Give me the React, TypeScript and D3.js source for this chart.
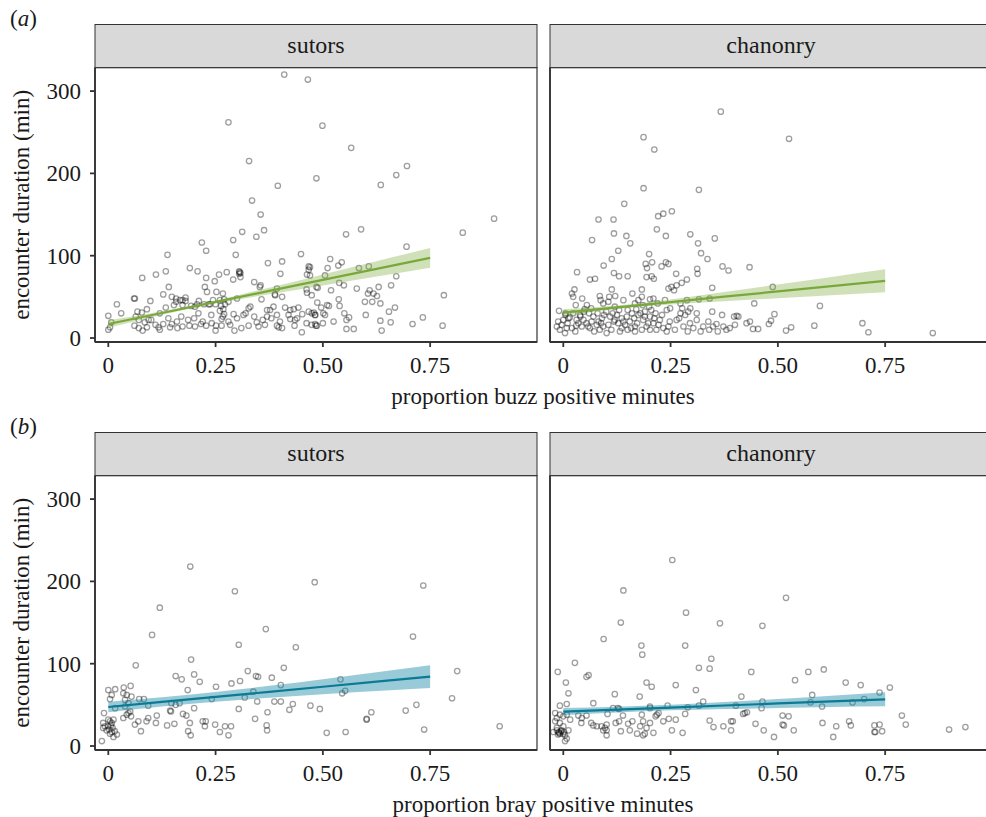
import React, { useRef, useEffect } from "react";
import * as d3 from "d3";

// [proportion positive minutes, encounter duration (min)]
const sutorsBuzz = [
  [0.41,320],[0.465,314],[0.28,262],[0.499,258],[0.328,215],[0.485,194],[0.395,185],[0.335,167],
  [0.566,231],[0.696,209],[0.671,198],[0.635,186],[0.899,145],[0.826,128],[0.589,132],[0.554,126],[0.695,111],
  [0.517,96],[0.544,92],[0.536,88],[0.511,85],[0.584,85],[0.607,87],[0.671,75],[0.505,76],[0.47,86],[0.47,76],
  [0.538,67],[0.549,64],[0.63,62],[0.659,64],[0.579,60],[0.519,58],[0.488,61],[0.474,52],
  [0.609,58],[0.618,54],[0.626,51],[0.605,54],[0.782,52],[0.537,47],[0.598,44],[0.615,44],[0.634,42],
  [0.487,43],[0.51,40],[0.539,39],[0.496,37],[0.514,39],[0.668,37],[0.654,32],
  [0.474,30],[0.482,28],[0.505,28],[0.501,30],[0.555,22],[0.561,25],[0.733,25],[0.709,17],[0.779,15],
  [0.634,21],[0.658,19],[0.525,20],[0.5,18],[0.482,17],[0.484,15],[0.555,11],[0.572,11],[0.637,9],
  [0.355,150],[0.363,131],[0.312,129],[0.345,123],[0.291,119],[0.218,116],[0.228,106],[0.138,101],[0.297,101],[0.449,102],
  [0.372,91],[0.405,93],[0.467,87],[0.467,83],[0.463,77],[0.19,85],[0.208,81],[0.276,80],[0.305,81],[0.308,79],[0.305,78],[0.306,80],
  [0.134,81],[0.111,77],[0.079,73],[0.258,77],[0.228,73],[0.248,69],[0.291,71],[0.308,74],[0.401,78],[0.34,68],
  [0.141,62],[0.225,62],[0.355,64],[0.353,62],[0.393,60],[0.462,59],[0.463,55],[0.485,62],[0.23,56],[0.252,56],[0.267,54],
  [0.128,53],[0.06,48],[0.062,48],[0.098,45],[0.148,50],[0.158,48],[0.167,46],[0.158,44],[0.18,49],[0.18,45],[0.173,46],
  [0.211,45],[0.207,41],[0.244,46],[0.237,41],[0.357,47],[0.388,53],[0.389,52],[0.405,50],[0.02,41],
  [0.134,37],[0.153,40],[0.173,40],[0.193,39],[0.202,38],[0.223,41],[0.234,41],[0.25,41],[0.263,39],[0.272,41],[0.268,35],
  [0.09,35],[0.078,31],[0.064,26],[0.068,32],[0,27],[0.007,19],[0,10],[0.004,13],
  [0.061,15],[0.071,12],[0.08,9],[0.09,13],[0.085,19],[0.094,22],[0.071,22],
  [0.117,13],[0.128,17],[0.148,17],[0.144,13],[0.161,12],[0.173,14],[0.186,22],[0.189,15],[0.202,14],[0.216,17],[0.228,15],[0.241,18],
  [0.251,15],[0.264,15],[0.267,26],[0.264,23],[0.27,29],[0.284,16],[0.294,9],[0.292,29],
  [0.315,28],[0.327,15],[0.346,19],[0.35,14],[0.365,16],[0.331,38],[0.327,36],
  [0.37,34],[0.377,34],[0.37,26],[0.385,38],[0.393,28],[0.393,15],[0.397,13],[0.405,12],
  [0.412,37],[0.424,34],[0.432,35],[0.443,37],[0.435,22],[0.424,23],[0.452,29],[0.467,32],[0.479,31],[0.482,28],
  [0.462,18],[0.474,16],[0.486,15],[0.451,7],[0.434,15],
  [0.03,30],[0.1,22],[0.11,16],[0.12,30],[0.14,24],[0.16,20],[0.17,26],[0.2,24],[0.21,30],[0.22,20],
  [0.24,28],[0.26,33],[0.28,20],[0.3,24],[0.31,12],[0.32,30],[0.34,26],[0.36,22],[0.38,24],[0.4,20],
  [0.42,28],[0.44,24],[0.26,46],[0.27,47],[0.28,44],[0.3,48],[0.25,9],[0.12,10],[0.55,30],[0.6,28],
];

const chanonryBuzz = [
  [0.367,275],[0.187,244],[0.212,229],[0.187,182],[0.316,180],[0.142,163],
  [0.526,242],[0.488,62],[0.598,39],[0.492,29],[0.484,21],[0.479,17],[0.442,11],[0.519,9],[0.531,13],[0.585,15],[0.697,18],[0.711,7],[0.861,6],
  [0.082,144],[0.117,144],[0.221,148],[0.233,151],[0.253,154],
  [0.118,127],[0.147,124],[0.067,119],[0.156,115],[0.218,132],[0.239,124],[0.296,126],[0.353,121],[0.314,115],
  [0.128,106],[0.113,96],[0.094,88],[0.032,80],
  [0.2,102],[0.207,92],[0.192,90],[0.195,85],[0.239,92],[0.245,90],[0.229,87],
  [0.321,103],[0.336,96],[0.312,84],[0.313,78],[0.371,87],[0.385,82],[0.434,86],
  [0.118,79],[0.13,75],[0.15,75],[0.062,71],[0.074,72],[0.194,74],[0.206,75],[0.211,72],
  [0.263,78],[0.288,71],[0.276,67],[0.264,64],[0.245,60],[0.252,62],[0.258,58],[0.347,61],[0.445,42],
  [0.026,59],[0.02,54],[0.023,50],[0.044,48],[0.029,40],[-0.01,33],
  [0.085,51],[0.107,50],[0.087,46],[0.113,59],[0.121,51],[0.105,44],[0.093,42],
  [0.14,46],[0.161,54],[0.183,59],[0.183,50],[0.175,46],[0.167,42],[0.202,47],[0.21,48],
  [0.237,46],[0.249,36],[0.241,34],[0.273,42],[0.288,46],[0.296,36],[0.277,36],[0.273,30],
  [0.316,47],[0.341,48],[0.347,32],[0.37,28],[0.398,26],[0.404,27],
  [-0.015,14],[-0.004,16],[0.004,6],[0,22],[-0.012,20],[-0.008,10],[0.008,12],
  [0.023,30],[0.039,28],[0.047,22],[0.031,22],[0.054,18],[0.043,14],[0.062,12],[0.07,26],[0.078,16],[0.085,10],
  [0.093,14],[0.101,6],[0.082,20],[0.066,20],
  [0.109,26],[0.12,22],[0.128,18],[0.136,12],[0.148,26],[0.155,20],[0.167,14],[0.175,28],[0.186,22],[0.194,14],
  [0.202,26],[0.21,18],[0.217,10],[0.225,22],[0.233,12],[0.241,8],[0.167,8],[0.183,10],[0.202,10],[0.136,24],[0.144,16],
  [0.248,20],[0.264,22],[0.28,14],[0.295,18],[0.311,22],[0.303,12],[0.326,14],[0.338,20],[0.349,14],[0.357,17],
  [0.373,14],[0.388,12],[0.4,16],[0.408,26],[0.427,18],[0.435,20],[0.454,11],[0.311,30],[0.284,28],[0.291,32],
  [0.01,18],[0.015,25],[0.005,28],[0.05,35],[0.06,30],[0.1,32],[0.115,30],[0.13,34],[0.16,30],[0.17,35],
  [0.19,32],[0.2,38],[0.055,40],[0.12,38],[0.09,24],[0.15,10],[0.185,40],[0.215,30],[0.22,42],[0.03,15],
  [0.005,30],[0.012,24],[0.02,12],[0.028,8],[0.035,18],[0.04,26],[0.048,32],[0.058,14],[0.065,36],[0.072,8],
  [0.08,30],[0.088,18],[0.095,28],[0.105,16],[0.112,10],[0.118,20],[0.125,28],[0.132,8],[0.14,20],[0.15,34],
  [0.158,12],[0.165,24],[0.172,18],[0.18,30],[0.19,26],[0.198,18],[0.205,34],[0.212,24],[0.222,16],[0.23,28],
  [0.245,14],[0.26,10],[0.27,24],[0.29,8],[0.32,8],[0.34,10],[0.36,8],[0.38,10],
];

const sutorsBray = [
  [0.191,218],[0.481,199],[0.734,195],[0.295,188],[0.12,168],[0.102,135],[0.367,142],[0.304,123],[0.437,120],[0.71,133],
  [0.193,105],[0.064,98],[0.409,95],[0.813,91],[0.325,91],[0.344,85],[0.349,84],[0.381,83],[0.157,85],[0.171,81],[0.2,87],[0.213,78],
  [0.307,79],[0.287,76],[0.251,72],[0.402,74],[0.541,81],[0.552,67],[0.545,64],[0.185,68],[0.338,66],[0.318,59],[0.241,57],[0.801,58],
  [0.347,54],[0.387,54],[0.402,54],[0.43,51],[0.422,44],[0.471,49],[0.493,45],[0.718,50],[0.693,43],[0.613,41],[0.602,32],[0.602,33],
  [0.2,46],[0.304,45],[0.371,41],[0.147,52],[0.157,50],[0.166,52],[0.144,43],[0.146,42],[0.093,49],[0.083,57],[0.072,57],
  [0.174,39],[0.182,37],[0.113,37],[0.093,34],[0.089,30],[0.111,28],[0.07,30],[0.062,26],[0.076,18],[0.137,25],[0.154,27],
  [0.19,28],[0.186,18],[0.192,13],[0.22,30],[0.227,30],[0.225,24],[0.249,26],[0.272,24],[0.286,24],[0.26,17],[0.28,13],
  [0.342,33],[0.369,25],[0.37,19],[0.509,16],[0.553,17],[0.736,20],[0.912,24],
  [0,68],[0.016,69],[0.036,71],[0.052,73],[0.035,64],[0.043,62],[0.054,60],[0.008,62],[0.004,57],[0.039,56],[0.047,52],
  [0.039,48],[0.051,42],[0.043,38],[0.035,34],[0.047,40],[0.053,36],[0.016,46],
  [-0.01,40],[-0.012,28],[-0.008,24],[0,32],[0.008,28],[0.012,32],[-0.004,19],[0.004,15],[0.012,11],[0.008,17],[-0.015,6],
  [-0.012,22],[0,24],[0.002,20],[0.006,25],[0.01,22],[0.015,18],[0.004,30],[0.02,14],
];

const chanonryBray = [
  [0.254,226],[0.519,180],[0.14,189],[0.286,162],[0.134,150],[0.365,149],[0.464,146],[0.094,130],[0.182,122],[0.184,111],
  [0.284,122],[0.345,106],[0.027,101],[-0.013,90],
  [0.316,95],[0.341,94],[0.438,90],[0.607,93],[0.571,90],[0.054,84],[0.059,86],[0.006,77],[0.54,80],[0.194,77],[0.206,72],
  [0.262,74],[0.658,77],[0.693,74],[0.761,71],
  [0.012,64],[0.12,63],[0.178,60],[0.309,68],[0.415,60],[0.58,62],[0.737,65],[0.701,57],[0.674,53],[0.07,52],[0.326,54],
  [0.316,49],[0.464,54],[0.462,46],[0.402,49],[0.576,53],[0.603,48],
  [-0.008,49],[0.008,51],[0.116,46],[0.127,46],[0.13,45],[0.202,48],[0.202,46],[0.243,49],[0.29,47],[0.103,39],[0.139,37],
  [0.183,38],[0.218,38],[0.215,36],[0.222,40],[0.284,39],[0.419,39],[0.428,41],[0.511,37],[0.525,36],[0.789,37],
  [0.035,37],[0.043,34],[0.054,37],[0.065,28],[0.07,25],[0.078,24],[0.089,24],[0.097,22],[0.101,26],[0.101,13],[0.093,19],
  [0.101,19],[0.042,28],
  [0.122,28],[0.13,30],[0.151,27],[0.161,30],[0.134,18],[0.155,19],[0.172,15],[0.179,24],[0.186,30],[0.194,22],[0.202,28],
  [0.19,15],[0.186,13],[0.21,16],
  [0.233,30],[0.246,33],[0.262,32],[0.253,19],[0.278,16],[0.341,31],[0.35,23],[0.373,24],[0.391,30],[0.395,30],[0.391,19],
  [0.423,40],[0.448,27],[0.467,19],[0.491,11],[0.511,26],[0.514,25],[0.537,19],
  [0.604,28],[0.636,24],[0.629,11],[0.666,30],[0.67,25],[0.725,25],[0.737,26],[0.725,17],[0.727,17],[0.743,18],[0.798,26],
  [0.899,20],[0.937,23],
  [-0.019,40],[-0.015,34],[-0.008,38],[0,36],[0.008,38],[-0.015,22],[-0.011,17],[-0.008,15],[-0.004,19],[0,24],[0.004,13],
  [0.012,19],[0.008,9],[0.004,6],[-0.008,28],[-0.023,17],[0.016,32],[-0.019,30],
  [-0.01,16],[-0.005,18],[0,15],[-0.015,19],[0.002,17],[-0.012,14],
];

// fitted linear model with 95% band, read at these x values
const fitX = [0, 0.125, 0.25, 0.375, 0.5, 0.625, 0.75];
const sutorsBuzzFit = [17, 30.4, 43.8, 57.2, 70.6, 84, 97.4];
const sutorsBuzzLo = [12.4, 28.3, 42, 53.2, 63.9, 74.7, 85.4];
const sutorsBuzzHi = [21.6, 32.5, 45.6, 61.2, 77.3, 93.3, 109.4];
const chanonryBuzzFit = [30.8, 37.3, 43.7, 50.2, 56.6, 63.1, 69.5];
const chanonryBuzzLo = [26.8, 35.2, 40.7, 44.6, 48.3, 52, 55.5];
const chanonryBuzzHi = [34.8, 39.4, 46.8, 55.8, 64.9, 74.2, 83.5];
const sutorsBrayFit = [47.4, 53.5, 59.7, 65.8, 72, 78.1, 84.2];
const sutorsBrayLo = [41, 47.9, 53.8, 58.5, 62.8, 66.7, 70.4];
const sutorsBrayHi = [53.8, 59.1, 65.7, 73.1, 81.2, 89.5, 98];
const chanonryBrayFit = [41.7, 44.2, 46.7, 49.2, 51.7, 54.2, 56.7];
const chanonryBrayLo = [37.3, 40.7, 43.3, 45, 46.3, 47.3, 48.2];
const chanonryBrayHi = [46.1, 47.7, 50.2, 53.4, 57.1, 61.1, 65.2];

const xTicks = [0, 0.25, 0.5, 0.75];
const xTickLabels = ["0", "0.25", "0.50", "0.75"];
const yTicks = [0, 100, 200, 300];
const sites = ["sutors", "chanonry"];
const rowLabels = ["a", "b"];
const xTitles = ["proportion buzz positive minutes", "proportion bray positive minutes"];

const GREEN = "#79a83a";
const BLUE = "#0b7a94";

const panels = [
  { row: 0, col: 0, pts: sutorsBuzz, fit: sutorsBuzzFit, lo: sutorsBuzzLo, hi: sutorsBuzzHi, color: GREEN, band: "#79a83a", bandOp: 0.35 },
  { row: 0, col: 1, pts: chanonryBuzz, fit: chanonryBuzzFit, lo: chanonryBuzzLo, hi: chanonryBuzzHi, color: GREEN, band: "#79a83a", bandOp: 0.35 },
  { row: 1, col: 0, pts: sutorsBray, fit: sutorsBrayFit, lo: sutorsBrayLo, hi: sutorsBrayHi, color: BLUE, band: "#1a8aa6", bandOp: 0.45 },
  { row: 1, col: 1, pts: chanonryBray, fit: chanonryBrayFit, lo: chanonryBrayLo, hi: chanonryBrayHi, color: BLUE, band: "#1a8aa6", bandOp: 0.45 },
];

const App = () => {
  const ref = useRef(null);

  useEffect(() => {
    const svg = d3.select(ref.current);
    svg.selectAll("*").remove();

    const font = "'Liberation Serif', 'DejaVu Serif', serif";
    const ink = "#333";
    const colLeft = [95, 550];
    const pw = 442;
    const ph = 274.3;
    const rowStep = 408;
    const stripTop = 24.5;
    const plotTop = 67.7;

    const x = d3.scaleLinear().domain([-0.031, 0.999]).range([0, pw]);
    const y = d3.scaleLinear().domain([-4.86, 328.4]).range([ph, 0]);

    panels.forEach((p) => {
      const left = colLeft[p.col];
      const top = plotTop + p.row * rowStep;

      // strip
      svg
        .append("rect")
        .attr("x", left)
        .attr("y", stripTop + p.row * rowStep)
        .attr("width", pw)
        .attr("height", plotTop - stripTop)
        .attr("fill", "#d9d9d9")
        .attr("stroke", ink)
        .attr("stroke-width", 1);

      svg
        .append("text")
        .attr("x", left + pw / 2)
        .attr("y", stripTop + p.row * rowStep + 28.5)
        .attr("text-anchor", "middle")
        .attr("font-family", font)
        .attr("font-size", 24)
        .attr("fill", "#1a1a1a")
        .text(sites[p.col]);

      const g = svg.append("g").attr("transform", `translate(${left},${top})`);

      g.append("rect")
        .attr("width", pw)
        .attr("height", ph)
        .attr("fill", "white")
        .attr("stroke", ink)
        .attr("stroke-width", 1.2);

      g.append("g")
        .selectAll("circle")
        .data(p.pts)
        .join("circle")
        .attr("cx", (d) => x(d[0]))
        .attr("cy", (d) => y(d[1]))
        .attr("r", 2.7)
        .attr("fill", "none")
        .attr("stroke", "black")
        .attr("stroke-opacity", 0.38)
        .attr("stroke-width", 1.3);

      const bandData = fitX.map((v, i) => ({ x: v, lo: p.lo[i], hi: p.hi[i], fit: p.fit[i] }));

      g.append("path")
        .datum(bandData)
        .attr("fill", p.band)
        .attr("fill-opacity", p.bandOp)
        .attr(
          "d",
          d3
            .area()
            .x((d) => x(d.x))
            .y0((d) => y(d.lo))
            .y1((d) => y(d.hi))
            .curve(d3.curveMonotoneX)
        );

      g.append("path")
        .datum(bandData)
        .attr("fill", "none")
        .attr("stroke", p.color)
        .attr("stroke-width", 2.2)
        .attr(
          "d",
          d3
            .line()
            .x((d) => x(d.x))
            .y((d) => y(d.fit))
        );

      // axis lines
      g.append("line").attr("x1", 0).attr("x2", 0).attr("y1", 0).attr("y2", ph)
        .attr("stroke", ink).attr("stroke-width", 1.8);
      g.append("line").attr("x1", 0).attr("x2", pw).attr("y1", ph).attr("y2", ph)
        .attr("stroke", ink).attr("stroke-width", 1.8);

      // x ticks
      xTicks.forEach((t, i) => {
        g.append("line")
          .attr("x1", x(t)).attr("x2", x(t))
          .attr("y1", ph).attr("y2", ph + 5)
          .attr("stroke", ink).attr("stroke-width", 1.8);
        g.append("text")
          .attr("x", x(t))
          .attr("y", ph + 31)
          .attr("text-anchor", "middle")
          .attr("font-family", font)
          .attr("font-size", 23)
          .attr("fill", "#1a1a1a")
          .text(xTickLabels[i]);
      });

      // y ticks, left column only
      if (p.col === 0) {
        yTicks.forEach((t) => {
          g.append("line")
            .attr("x1", -5).attr("x2", 0)
            .attr("y1", y(t)).attr("y2", y(t))
            .attr("stroke", ink).attr("stroke-width", 1.8);
          g.append("text")
            .attr("x", -14)
            .attr("y", y(t) + 8)
            .attr("text-anchor", "end")
            .attr("font-family", font)
            .attr("font-size", 23)
            .attr("fill", "#1a1a1a")
            .text(t);
        });
      }
    });

    rowLabels.forEach((lab, r) => {
      const off = r * rowStep;
      const t = svg
        .append("text")
        .attr("x", 10)
        .attr("y", 26 + off)
        .attr("font-family", font)
        .attr("font-size", 23)
        .attr("fill", "#1a1a1a");
      t.append("tspan").text("(");
      t.append("tspan").attr("font-style", "italic").text(lab);
      t.append("tspan").text(")");

      svg
        .append("text")
        .attr("transform", `translate(29,${plotTop + off + ph / 2}) rotate(-90)`)
        .attr("text-anchor", "middle")
        .attr("font-family", font)
        .attr("font-size", 23)
        .attr("fill", "#1a1a1a")
        .text("encounter duration (min)");

      svg
        .append("text")
        .attr("x", 543)
        .attr("y", 404 + off)
        .attr("text-anchor", "middle")
        .attr("font-family", font)
        .attr("font-size", 23)
        .attr("fill", "#1a1a1a")
        .text(xTitles[r]);
    });
  }, []);

  return (
    <svg
      ref={ref}
      width={986}
      height={817}
      style={{ position: "absolute", left: 0, top: 0, background: "white" }}
    ></svg>
  );
};

export default App;
